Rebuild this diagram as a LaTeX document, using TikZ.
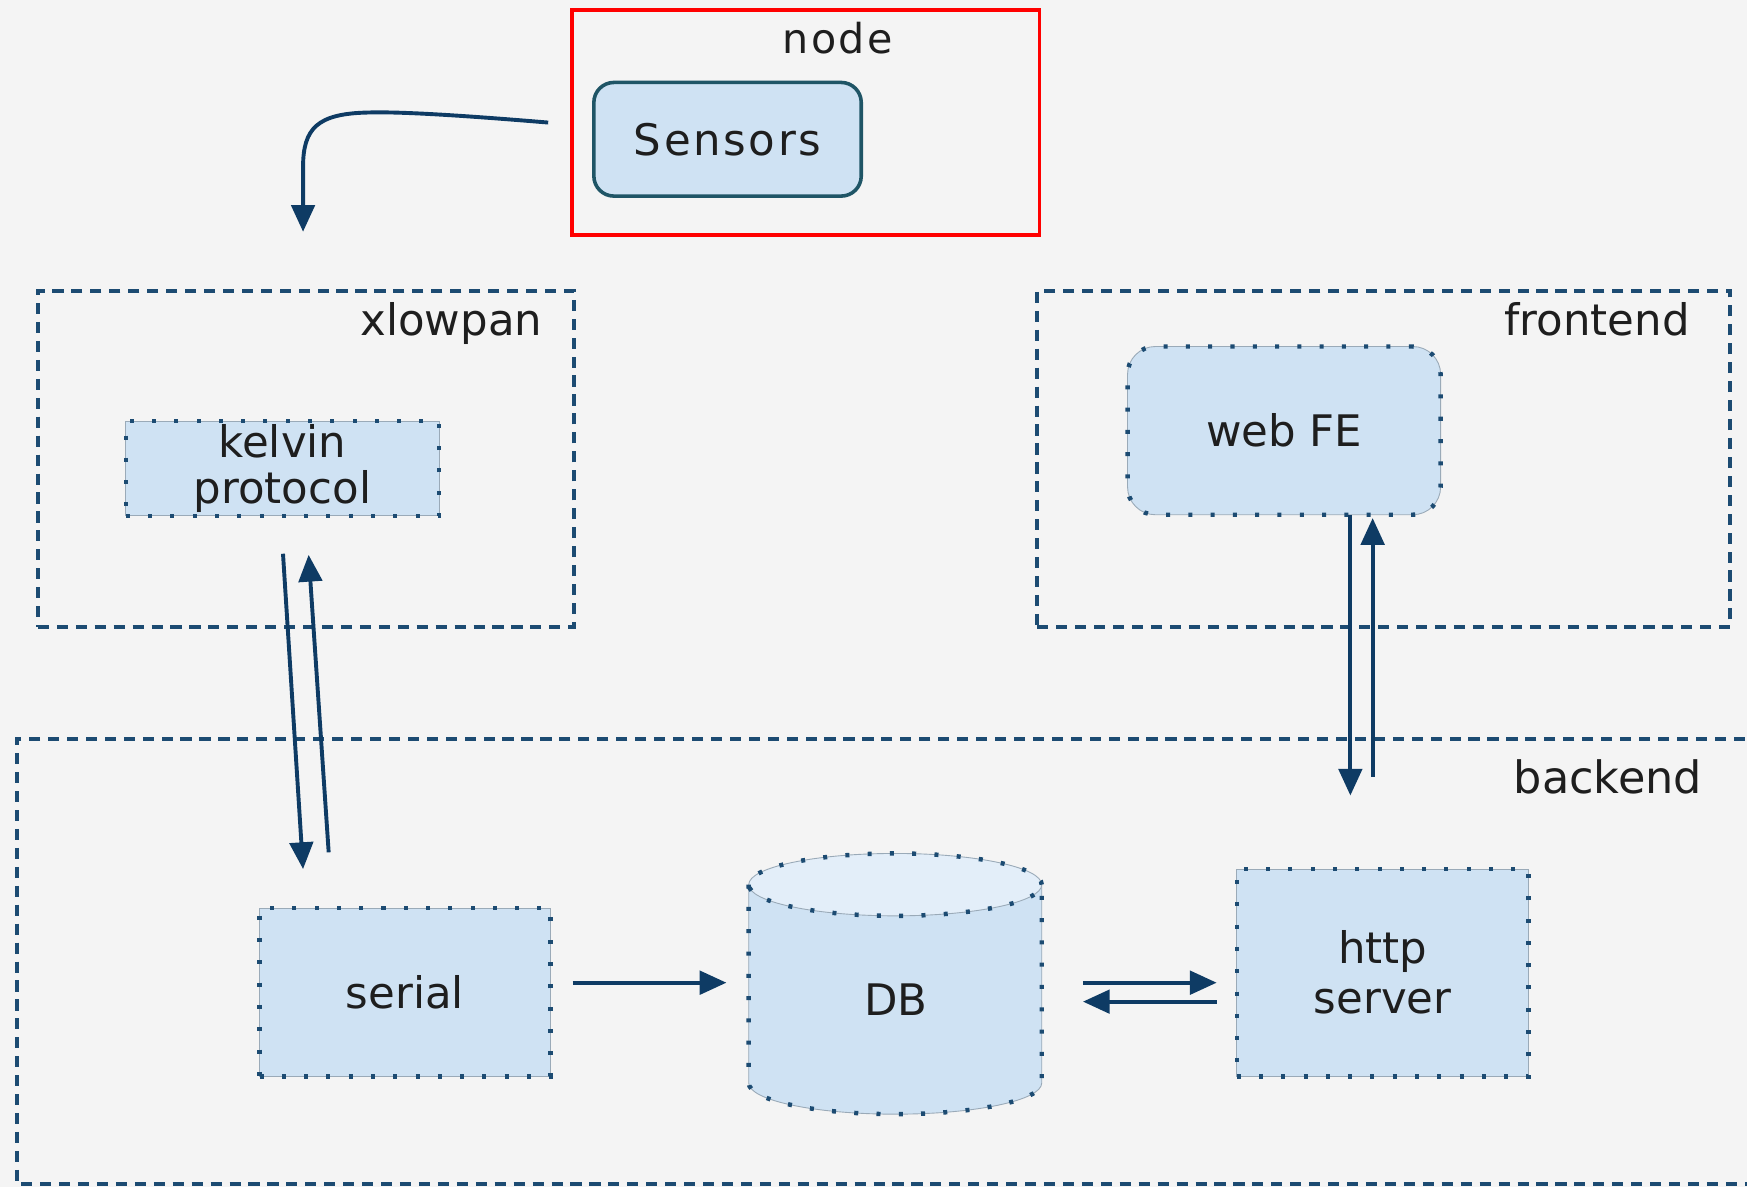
\documentclass[tikz,border=0pt]{standalone}
\usepackage{fontspec}
\setmainfont{DejaVu Sans}
\newfontfamily\spacedfont[LetterSpace=6]{DejaVu Sans}
\usetikzlibrary{arrows.meta}
\definecolor{bgcol}{HTML}{F4F4F4}
\definecolor{boxfill}{HTML}{CFE2F3}
\definecolor{dbtop}{HTML}{E3EEF9}
\definecolor{grpcol}{HTML}{1C4B72}
\definecolor{arrowcol}{HTML}{0E3B64}
\definecolor{edgegray}{HTML}{9AAAB8}
\definecolor{sensedge}{HTML}{1F5566}
\definecolor{txtcol}{HTML}{1E1E1E}
\tikzset{
  arr/.style={draw=arrowcol, line width=1.75pt, -{Triangle[length=12pt,width=10.5pt]}},
  grp/.style={draw=grpcol, line width=1.9pt, dash pattern=on 5pt off 3.5pt},
  grpbox/.style={grp, inner sep=0pt, outer sep=0pt},
  dots/.style={draw=grpcol, line width=2pt, dash pattern=on 1.8pt off 8.2pt},
  dotbox/.style={fill=boxfill, draw=edgegray, line width=0.4pt, inner sep=0pt,
    outer sep=0pt, align=center, postaction={dots}},
  txt/.style={text=txtcol, font=\fontsize{19.5pt}{21.5pt}\selectfont},
  grplabel/.style={txt, anchor=base east, inner sep=0pt},
}
\begin{document}
\begin{tikzpicture}[x=0.5pt,y=-0.5pt]
  % canvas
  \fill[bgcol] (0,0) rectangle (1568,1065);
  \useasboundingbox (0,0) rectangle (1568,1065);
  \clip (0,0) rectangle (1568,1065);

  % sensor node
  \node (nodebox) [draw=red, line width=1.75pt, minimum width=210pt,
    minimum height=101pt, inner sep=0pt] at (723,110) {};
  \node (nodelabel) [txt, anchor=base, inner sep=0pt, font=\fontsize{18.5pt}{21pt}\spacedfont]
    at (752,48) {node};
  \node (sensors) [draw=sensedge, fill=boxfill, line width=1.6pt, rounded corners=9pt,
    minimum width=120pt, minimum height=51pt, inner sep=0pt, outer sep=0pt, txt,
    font=\fontsize{19.5pt}{21.5pt}\spacedfont] at (653,125) {Sensors};

  % groups
  \node (xlowpan) [grpbox, minimum width=240.5pt, minimum height=151pt] at (274.5,412) {};
  \node (xlowpanlabel) [grplabel] at (487,301) {xlowpan};
  \node (frontend) [grpbox, minimum width=311pt, minimum height=151pt] at (1242,412) {};
  \node (frontendlabel) [grplabel] at (1517,301) {frontend};
  \draw[grp] (1600,663) -- (15,663) -- (15,1063) -- (1600,1063);
  \node (backendlabel) [grplabel, font=\fontsize{20pt}{22pt}\selectfont] at (1528,712) {backend};

  % components
  \node (kelvin) [dotbox, txt, minimum width=140.5pt, minimum height=42.5pt]
    at (253.5,420.5) {kelvin\\[-1pt]protocol};
  \node (webfe) [dotbox, txt, rounded corners=12.5pt, minimum width=140.5pt,
    minimum height=75.5pt] at (1152.5,386.5) {web FE};
  \node (serial) [dotbox, txt, minimum width=130.5pt, minimum height=75.5pt]
    at (363.5,890.5) {serial};
  \node (http) [dotbox, txt, minimum width=131pt, minimum height=93pt]
    at (1241,873) {http\\[1pt]server};

  % database cylinder
  \fill[boxfill] (672,794) -- (672,972)
    .. controls (672,987.5) and (730.9,1000) .. (803.5,1000)
    .. controls (876.1,1000) and (935,987.5) .. (935,972) -- (935,794) -- cycle;
  \fill[dbtop] (803.5,794) ellipse [x radius=65.75pt, y radius=14pt];
  \draw[edgegray, line width=0.4pt] (672,794) -- (672,972)
    .. controls (672,987.5) and (730.9,1000) .. (803.5,1000)
    .. controls (876.1,1000) and (935,987.5) .. (935,972) -- (935,794);
  \draw[edgegray, line width=0.4pt] (803.5,794) ellipse [x radius=65.75pt, y radius=14pt];
  \draw[dots] (672,794) -- (672,972)
    .. controls (672,987.5) and (730.9,1000) .. (803.5,1000)
    .. controls (876.1,1000) and (935,987.5) .. (935,972) -- (935,794);
  \draw[dots] (803.5,794) ellipse [x radius=65.75pt, y radius=14pt];
  \node (db) [txt, minimum width=131.5pt, minimum height=117pt, inner sep=0pt,
    outer sep=0pt] at (803.5,883) {};
  \node (dblabel) [txt, inner sep=0pt] at (804,897) {DB};

  % connectors
  \draw[arr] ([shift={(-41,-15)}]sensors.west)
    .. controls (420,104) and (360,100) .. (330,101)
    .. controls (285,102) and (272,115) .. (272,150)
    -- ([shift={(-2.5,-53)}]xlowpan.north);
  \draw[arr] ([shift={(0.5,34)}]kelvin.south) -- ([shift={(39,-35)}]serial.north west);
  \draw[arr] ([shift={(62,-50)}]serial.north west) -- ([shift={(23.5,35)}]kelvin.south);
  \draw[arr] ([shift={(59.5,0)}]webfe.south) -- ([shift={(-29,-66)}]http.north);
  \draw[arr] ([shift={(-9,-83)}]http.north) -- ([shift={(79.5,3)}]webfe.south);
  \draw[arr] ([shift={(20,-8.5)}]serial.east) -- ([shift={(-20,-1)}]db.west);
  \draw[arr] ([shift={(37,-1)}]db.east) -- ([shift={(-18,9)}]http.west);
  \draw[arr] ([shift={(-18,26)}]http.west) -- ([shift={(37,16)}]db.east);
\end{tikzpicture}
\end{document}
